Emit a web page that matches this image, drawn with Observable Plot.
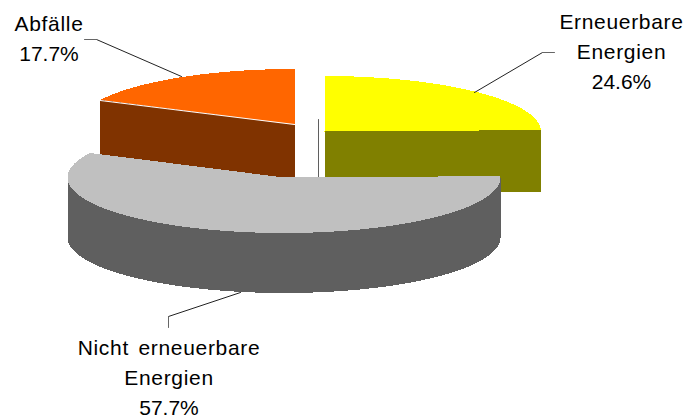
<!DOCTYPE html>
<html>
<head>
<meta charset="utf-8">
<script src="https://cdn.jsdelivr.net/npm/d3@7"></script>
<script src="https://cdn.jsdelivr.net/npm/@observablehq/plot@0.6"></script>
<style>
  html, body { margin: 0; padding: 0; background: #fff; }
  svg { display: block; }
</style>
</head>
<body>
<div id="chart"></div>
<script>
// Values
const categories = ["Erneuerbare\nEnergien", "Abfälle", "Nicht erneuerbare\nEnergien"];
const shares = [24.6, 17.7, 57.7];

// Slice order around the pie, clockwise from 12 o'clock
const sliceOrder = [0, 2, 1];

// Styles
const topColors = ["#FFFF00", "#FF6600", "#C0C0C0"];
const wallColors = ["#808000", "#803300", "#5F5F5F"];

// Pie layout (exploded centres, radii, extrusion)
const centerX = [324, 294, 283.5];
const centerY = [131, 124, 177];
const radiusX = 216.5;
const radiusY = 55.5;
const depth = 60;

// Annotation layout
const labelX = [621, 48.5, 168.5];
const labelY = [88, 60, 414];
const leaderLines = [
  {dark: [[474, 92], [542, 52]], light: [[542, 52], [554, 52]]},
  {dark: [[181, 76], [96, 39]], light: [[96, 39], [84, 39]]},
  {dark: [[240, 292], [168, 316]], light: [[168, 316], [168, 327]]}
];
const innerEdge = [[318, 119], [318, 177]];

// Angles from the values
const arcs = d3.pie().sort(null).value((i) => shares[i])(sliceOrder);
const arcOf = (i) => arcs.find((a) => a.data === i);

const rim = (i, a, dy = 0) => [
  centerX[i] + radiusX * Math.sin(a),
  centerY[i] - radiusY * Math.cos(a) + dy
];
const arcPath = (i, a0, a1, dy = 0) => {
  const n = Math.max(2, Math.ceil(Math.abs(a1 - a0) * 40));
  return d3.range(n + 1).map((k) => rim(i, a0 + (a1 - a0) * k / n, dy));
};
const apex = (i, dy = 0) => [centerX[i], centerY[i] + dy];
const topFace = (i) => {
  const {startAngle: a0, endAngle: a1} = arcOf(i);
  return [apex(i), ...arcPath(i, a0, a1)];
};
// Cut wall of a slice; the near-horizontal one keeps a level lower edge
const cutWall = (i, a, level = false) => {
  const r = rim(i, a);
  const lowerY = level ? centerY[i] + depth : r[1] + depth;
  return [apex(i), r, [r[0], lowerY], apex(i, depth)];
};
const outerWall = (i) => {
  const a0 = Math.max(arcOf(i).startAngle, Math.PI / 2);
  const a1 = Math.min(arcOf(i).endAngle, 3 * Math.PI / 2);
  return [...arcPath(i, a0, a1), ...arcPath(i, a1, a0, depth)];
};

const poly = (pts, fill) => Plot.line(pts, {
  x: (d) => d[0], y: (d) => d[1], fill, stroke: "none", shapeRendering: "crispEdges"
});
const seg = (pts, stroke) => Plot.line(pts, {
  x: (d) => d[0], y: (d) => d[1], stroke, strokeWidth: 1
});

const [YELLOW, ORANGE, GREY] = [0, 1, 2];

const labelRows = categories.map((name, i) => ({
  name, share: shares[i].toFixed(1) + "%", x: labelX[i], y: labelY[i]
}));

const plot = Plot.plot({
  width: 689,
  height: 420,
  margin: 0,
  x: {domain: [0, 689], range: [0, 689], axis: null},
  y: {domain: [0, 420], range: [0, 420], axis: null},
  style: {fontFamily: "'Liberation Sans', Arial, sans-serif", background: "#fff", overflow: "visible"},
  marks: [
    // Abfälle
    poly(cutWall(ORANGE, arcOf(ORANGE).startAngle), wallColors[ORANGE]),
    poly(topFace(ORANGE), topColors[ORANGE]),
    Plot.line([rim(ORANGE, arcOf(ORANGE).startAngle, 0.6), apex(ORANGE)], {
      x: (d) => d[0], y: (d) => d[1], stroke: "#fff", strokeWidth: 1.2
    }),
    // Erneuerbare Energien
    poly(cutWall(YELLOW, arcOf(YELLOW).endAngle, true), wallColors[YELLOW]),
    poly(topFace(YELLOW), topColors[YELLOW]),
    seg(innerEdge, wallColors[GREY]),
    // Nicht erneuerbare Energien
    poly(outerWall(GREY), wallColors[GREY]),
    poly(topFace(GREY), topColors[GREY]),
    // Leaders
    ...leaderLines.flatMap((l) => [seg(l.dark, "#222"), seg(l.light, "#666")]),
    // Labels: name lines above, percent line at the bottom
    Plot.text(labelRows, {
      x: "x", y: (d) => d.y - 30, text: "name", fontSize: 21, lineHeight: 30 / 21,
      lineAnchor: "bottom", textAnchor: "middle", fill: "#000"
    }),
    Plot.text(labelRows, {
      x: "x", y: "y", text: "share", fontSize: 21,
      lineAnchor: "bottom", textAnchor: "middle", fill: "#000"
    })
  ]
});
plot.querySelectorAll("text").forEach((t) => {
  if (!t.textContent.includes("%")) {
    t.style.letterSpacing = "0.68px";
    t.style.wordSpacing = "3px";
  }
});
document.getElementById("chart").append(plot);
</script>
</body>
</html>
